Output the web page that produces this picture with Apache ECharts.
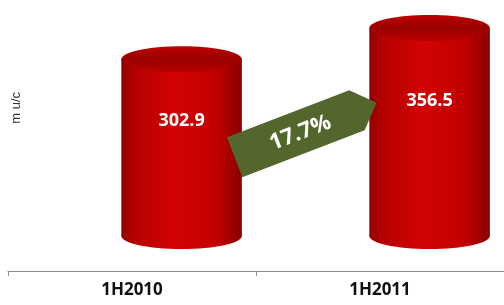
<!DOCTYPE html>
<html>
<head>
<meta charset="utf-8">
<script src="https://cdn.jsdelivr.net/npm/echarts@6/dist/echarts.min.js"></script>
<style>
  html, body { margin: 0; padding: 0; background: #fff; }
  #main { width: 504px; height: 305px; }
</style>
</head>
<body>
<div id="main"></div>
<script>
// data
var periods = ['1H2010', '1H2011'];
var values = [302.9, 356.5];
var unitName = 'm u/c';
// growth between the two halves, shown on the arrow
var growth = ((values[1] - values[0]) / values[0] * 100).toFixed(1) + '%';

var chart = echarts.init(document.getElementById('main'));

// 3D look: cylinders sit a bit right of / above the category slot
var DEPTH_X = 0.2;   // share of band width
var DEPTH_Y = 35;    // px

var bodyFill = {
  type: 'linear', x: 0, y: 0, x2: 1, y2: 0,
  colorStops: [
    { offset: 0, color: '#8e0000' },
    { offset: 0.1, color: '#b40000' },
    { offset: 0.45, color: '#d30303' },
    { offset: 0.8, color: '#c00000' },
    { offset: 1, color: '#870000' }
  ]
};
var topFill = {
  type: 'linear', x: 0, y: 0, x2: 0, y2: 1,
  colorStops: [
    { offset: 0, color: '#c00000' },
    { offset: 0.5, color: '#9a0000' },
    { offset: 1, color: '#b80000' }
  ]
};

function renderCylinder(params, api) {
  var idx = api.value(0);
  var base = api.coord([idx, 0]);
  var top = api.coord([idx, api.value(1)]);
  var band = api.size([1, 0])[0];
  var cx = base[0] + band * DEPTH_X;
  var rx = band * 0.243;
  var ry = 13;
  var by = base[1] - DEPTH_Y;
  var ty = top[1] - DEPTH_Y;
  return {
    type: 'group',
    children: [
      { type: 'ellipse', shape: { cx: cx, cy: by, rx: rx, ry: ry }, style: { fill: bodyFill } },
      { type: 'rect', shape: { x: cx - rx, y: ty, width: rx * 2, height: by - ty }, style: { fill: bodyFill } },
      { type: 'ellipse', shape: { cx: cx, cy: ty, rx: rx, ry: ry }, style: { fill: topFill } },
      {
        type: 'text',
        style: {
          x: cx, y: ty + (by - ty) * 0.35,
          text: String(values[idx]),
          fill: '#ffffff',
          font: 'bold 18px "Open Sans"',
          align: 'center', verticalAlign: 'middle'
        }
      }
    ]
  };
}

function renderArrow(params, api) {
  var a = api.coord([0, 0]);
  var b = api.coord([1, 0]);
  var band = api.size([1, 0])[0];
  var cx = (a[0] + b[0]) / 2 + band * DEPTH_X;
  var cy = a[1] - 141;
  var L = 76, head = 21, w = 21.5;
  return {
    type: 'group',
    x: cx, y: cy,
    rotation: 21 * Math.PI / 180,
    children: [
      {
        type: 'polygon',
        shape: { points: [[-L, -w], [L - head, -w], [L, 0], [L - head, w], [-L, w]] },
        style: { fill: '#53672c' }
      },
      {
        type: 'text',
        style: {
          x: -6, y: 1,
          text: growth,
          fill: '#ffffff',
          font: 'bold 22px "Open Sans"',
          align: 'center', verticalAlign: 'middle'
        }
      }
    ]
  };
}

chart.setOption({
  animation: false,
  backgroundColor: '#ffffff',
  grid: { left: 8, width: 498, top: 37.5, bottom: 34 },
  xAxis: {
    type: 'category',
    data: periods,
    axisLine: { lineStyle: { color: '#8c8c8c', width: 1 } },
    axisTick: { show: true, length: 5, lineStyle: { color: '#8c8c8c' } },
    axisLabel: {
      margin: 11,
      color: '#111111',
      fontFamily: 'Open Sans',
      fontWeight: 'bold',
      fontSize: 17
    }
  },
  yAxis: {
    type: 'value',
    min: 0,
    max: 400,
    show: false
  },
  graphic: [{
    type: 'text',
    left: 10,
    top: 92,
    rotation: Math.PI / 2,
    style: {
      text: unitName,
      fill: '#333333',
      font: '13px "Liberation Sans"'
    }
  }],
  series: [
    {
      type: 'custom',
      renderItem: renderCylinder,
      data: values.map(function (v, i) { return [i, v]; }),
      z: 2
    },
    {
      type: 'custom',
      renderItem: renderArrow,
      data: [[0, 1]],
      z: 3
    }
  ]
});
</script>
</body>
</html>
